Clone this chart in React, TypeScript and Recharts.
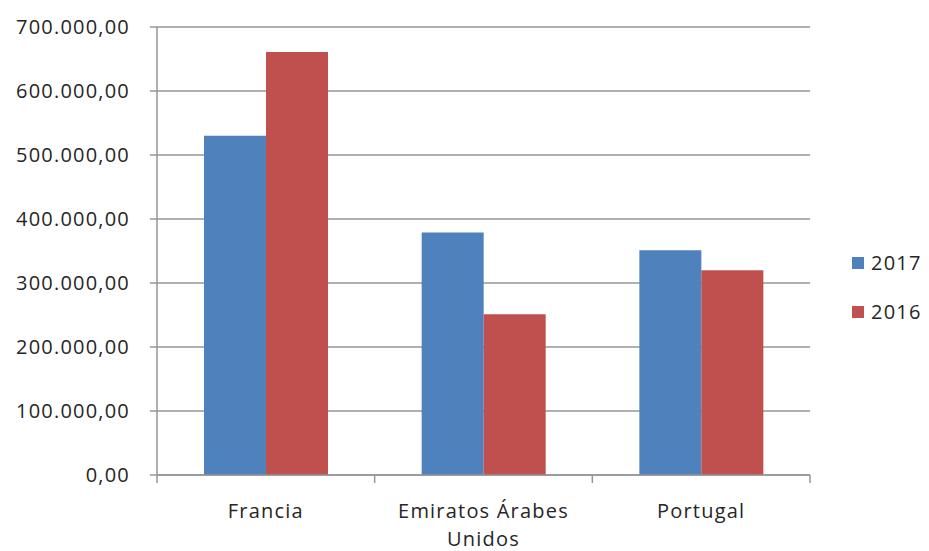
import React from "react";
import {
  BarChart,
  Bar,
  XAxis,
  YAxis,
  CartesianGrid,
  Legend,
} from "recharts";

const countries = ["Francia", "Emiratos Árabes Unidos", "Portugal"];
const values2017 = [530000, 379000, 351000];
const values2016 = [661000, 251000, 320000];
const yTicks = [0, 100000, 200000, 300000, 400000, 500000, 600000, 700000];

const series = [
  { key: "y2017", name: "2017", color: "#4F81BD" },
  { key: "y2016", name: "2016", color: "#C0504D" },
];

const data = countries.map((name, i) => ({
  name,
  y2017: values2017[i],
  y2016: values2016[i],
}));

const FONT = "'Open Sans', sans-serif";
const TEXT = "#262626";
const LINE = "#969696";

// 700000 -> "700.000,00"
const formatNumber = (v: number) => {
  const intPart = Math.floor(v)
    .toString()
    .replace(/\B(?=(\d{3})+(?!\d))/g, ".");
  return `${intPart},00`;
};

// simple word wrap, roughly as excel does for category labels
const wrap = (text: string, maxChars: number) => {
  const words = text.split(" ");
  const lines: string[] = [];
  let cur = "";
  words.forEach((w) => {
    const next = cur ? `${cur} ${w}` : w;
    if (next.length > maxChars && cur) {
      lines.push(cur);
      cur = w;
    } else {
      cur = next;
    }
  });
  if (cur) lines.push(cur);
  return lines;
};

const CategoryTick = (props: any) => {
  const { x, y, payload, index, visibleTicksCount } = props;
  const half = payload.offset || 0;
  const lines = wrap(payload.value, 16);
  const isLast = index === (visibleTicksCount ?? countries.length) - 1;
  return (
    <g>
      <line x1={x - half} x2={x - half} y1={y - 8} y2={y} stroke={LINE} strokeWidth={1.5} />
      {isLast && (
        <line x1={x + half} x2={x + half} y1={y - 8} y2={y} stroke={LINE} strokeWidth={1.5} />
      )}
      <text
        x={x}
        y={y + 35}
        textAnchor="middle"
        fill={TEXT}
        fontSize={20}
        fontFamily={FONT}
        letterSpacing={1.2}
      >
        {lines.map((l, i) => (
          <tspan key={i} x={x} dy={i === 0 ? 0 : 28}>
            {l}
          </tspan>
        ))}
      </text>
    </g>
  );
};

const LegendContent = () => (
  <div style={{ fontFamily: FONT, fontSize: 20, color: TEXT, letterSpacing: 1.2 }}>
    {series.map((s) => (
      <div key={s.key} style={{ display: "flex", alignItems: "center", height: 49 }}>
        <span
          style={{
            display: "inline-block",
            width: 12,
            height: 12,
            background: s.color,
            marginRight: 7,
          }}
        />
        {s.name}
      </div>
    ))}
  </div>
);

export default function App() {
  return (
    <div style={{ position: "absolute", left: 0, top: 0, background: "#fff" }}>
      <BarChart
        width={929}
        height={551}
        data={data}
        margin={{ top: 27, right: 119, left: 0, bottom: 10 }}
        barCategoryGap="21.6%"
        barGap={0}
      >
        <CartesianGrid vertical={false} stroke={LINE} strokeWidth={1.5} />
        <XAxis
          dataKey="name"
          height={66}
          axisLine={{ stroke: LINE, strokeWidth: 1.5 }}
          tickLine={false}
          tick={<CategoryTick />}
          interval={0}
        />
        <YAxis
          width={157}
          domain={[0, 700000]}
          ticks={yTicks}
          tickFormatter={formatNumber}
          axisLine={{ stroke: LINE, strokeWidth: 1.5 }}
          tickLine={{ stroke: LINE, strokeWidth: 1.5 }}
          tickSize={7}
          tickMargin={20}
          tick={{ fill: TEXT, fontSize: 20, fontFamily: FONT, letterSpacing: 1.2 }}
        />
        <Legend
          layout="vertical"
          align="center"
          verticalAlign="middle"
          content={<LegendContent />}
          wrapperStyle={{ left: 852, top: 238, width: 80 }}
        />
        {series.map((s) => (
          <Bar
            key={s.key}
            dataKey={s.key}
            name={s.name}
            fill={s.color}
            isAnimationActive={false}
          />
        ))}
      </BarChart>
    </div>
  );
}
